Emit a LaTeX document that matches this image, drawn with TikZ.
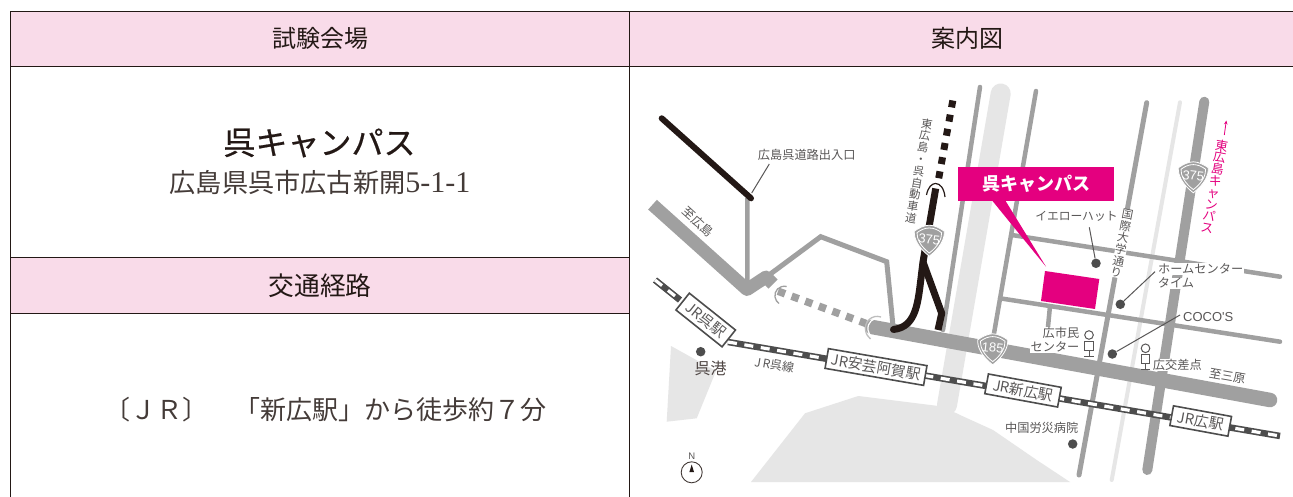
\documentclass[tikz,border=0pt]{standalone}
\usetikzlibrary{arrows.meta}
\usepackage{fontspec}
\setmainfont{Noto Sans CJK JP}
\newfontfamily\jpmedium[FakeBold=0.6]{Noto Sans CJK JP}
\newfontfamily\latinserif{Liberation Serif}
\newfontfamily\latinsans{Liberation Sans}
\definecolor{rule}{HTML}{231815}
\definecolor{headpink}{HTML}{F9DBE9}
\definecolor{roadgrey}{HTML}{A0A0A0}
\definecolor{lightgrey}{HTML}{E6E6E6}
\definecolor{mapink}{HTML}{595757}
\definecolor{railgrey}{HTML}{4D4D4D}
\definecolor{campus}{HTML}{E4007F}
\newcommand{\fs}[1]{\fontsize{#1}{#1}\selectfont}
\newcommand{\vfs}[2]{\fontsize{#1}{#2}\selectfont}
\tikzset{
  tablerule/.style={draw=rule,line width=1pt},
  headtext/.style={text=rule,inner sep=0pt},
  thinroad/.style={draw=roadgrey,line width=4.5pt,line cap=round},
  lightroad/.style={draw=lightgrey,line width=4pt,line cap=round},
  majorroad/.style={draw=roadgrey,line width=10pt,line cap=round},
  bigroad/.style={draw=roadgrey,line width=14.5pt,line cap=round},
  blackroad/.style={draw=rule,line width=7pt,line join=round},
  leader/.style={draw=mapink,line width=1pt},
  spot/.style={circle,fill=railgrey,inner sep=0pt,minimum size=9.5pt},
  maplabel/.style={text=mapink,inner sep=0.5pt,font=\fs{12.2}},
  halolabel/.style={maplabel,fill=white},
  stationbox/.style={draw=railgrey,fill=white,line width=1.6pt,inner sep=0pt,text=mapink,font=\fs{14.6},minimum height=20pt},
  vlabel/.style={text=mapink,inner sep=0.5pt,align=center},
  railbase/.style={draw=railgrey,line width=6.5pt},
  railtop/.style={draw=white,line width=3.2pt,dash pattern=on 9pt off 7.6pt},
  markerline/.style={draw=mapink,line width=1pt,fill=white}
}
% route shield: #1 name, #2 centre x, #3 centre y, #4 number
\newcommand{\shield}[4]{%
  \begin{scope}[shift={(#2,#3)}]
    \path[fill=roadgrey,draw=white,line width=.8pt]
      (0,-15.5) .. controls (5,-15.5) and (11,-12.5) .. (15,-9.5)
      .. controls (15.5,-2) and (11,7) .. (0,15.5)
      .. controls (-11,7) and (-15.5,-2) .. (-15,-9.5)
      .. controls (-11,-12.5) and (-5,-15.5) .. (0,-15.5) -- cycle;
    \path[draw=white,line width=.8pt]
      (0,-12.7) .. controls (5,-12.7) and (9,-10.5) .. (12.3,-8)
      .. controls (12.5,-2) and (9,5.5) .. (0,12.3)
      .. controls (-9,5.5) and (-12.5,-2) .. (-12.3,-8)
      .. controls (-9,-10.5) and (-5,-12.7) .. (0,-12.7) -- cycle;
    \node[text=white,inner sep=0pt,font=\latinsans\fs{13},rotate=-6] (#1) at (0,-1.5) {#4};
  \end{scope}}
% person-like marker: #1 x, #2 circle y
\newcommand{\marker}[2]{%
  \begin{scope}[shift={(#1,#2)}]
    \path[markerline] (0,0) circle (4.3);
    \path[markerline] (-4.3,6.3) rectangle (4.3,15.3);
    \path[markerline] (0,15.3) -- (0,21.5) (-4.8,21.5) -- (4.8,21.5);
  \end{scope}}
\begin{document}
\begin{tikzpicture}[x=1pt,y=-1pt]
\useasboundingbox (0,0) rectangle (1293,497);
\fill[white] (0,0) rectangle (1293,497);
% header bands
\fill[headpink] (10,12) rectangle (1293,66.5);
\fill[headpink] (10,257) rectangle (629.5,313.5);
% table rules
\path[tablerule] (10,497) -- (10,12) -- (1293,12);
\path[tablerule] (10,66.5) -- (1293,66.5);
\path[tablerule] (629.5,12) -- (629.5,497);
\path[tablerule] (10,257) -- (629.5,257);
\path[tablerule] (10,313.8) -- (629.5,313.8);
% table text
\node[headtext,font=\fs{24}] (hvenue) at (320,38.5) {試験会場};
\node[headtext,font=\fs{24}] (hmap) at (967,38.5) {案内図};
\node[headtext,font=\fs{25.8}] (hroute) at (320,286) {交通経路};
\node[headtext,font=\jpmedium\fs{32}] (campusname) at (319.5,143) {呉キャンパス};
\node[headtext,font=\fs{26.2},text=rule!85] (address) at (320,183) {広島県呉市広古新開{\latinserif\fs{30}5-1-1}};
\node[headtext,font=\fs{26},text=rule!85] (access) at (325,410) {〔ＪＲ〕　「新広駅」から徒歩約７分};
% light areas
\fill[lightgrey] (751,482) -- (805,413.3) -- (858.3,396) -- (938.3,406) -- (956.7,413.3) -- (960,415) -- (993,430) -- (1036.7,460) -- (1070,482) -- cycle;
\fill[lightgrey] (671,346) -- (716,371) -- (696.7,418.3) -- (666.7,421.7) -- cycle;
\path[draw=lightgrey,line width=20pt,line cap=round] (1000.7,93.5) -- (947,405);
\path[lightroad] (1180,102.3) -- (1111.7,480);
% thin roads
\path[thinroad] (980,87) -- (943,330);
\path[thinroad] (1036,91) -- (992,345);
\path[thinroad,line width=5pt] (1146.7,102.7) -- (1079,475);
\path[thinroad] (1011.7,235) -- (1280,276.7);
\path[thinroad] (1000,298.3) -- (1280,341.7);
\path[thinroad,line cap=butt] (1050,306) -- (1047.3,334);
\path[majorroad] (1204.3,101.7) -- (1147.3,470);
% west roads
\path[draw=roadgrey,line width=13pt,line join=round] (652.5,204.7) -- (747,289.5) -- (766,277) -- (773,284);
\path[thinroad,line cap=butt] (747.3,198) -- (747.5,285);
\path[draw=roadgrey,line width=5pt,line join=miter] (766.7,276.7) -- (820.7,236.7) -- (886.7,261.7) -- (893,326);
% tunnel section
\path[draw=roadgrey,line width=7.5pt,dash pattern=on 7.5pt off 7pt] (778,291.2) -- (866,323.5);
\path[draw=roadgrey,line width=1.3pt] (786.7,286.5) .. controls (779,285) and (774,291) .. (775,297) .. controls (775.5,300) and (777,302) .. (779,303.5);
% main road 185
\path[bigroad] (872,327) -- (1270,400);
\path[draw=white,line width=1.2pt] (881,318.5) .. controls (873,316.5) and (867,323) .. (868,330) .. controls (868.5,333) and (870,335) .. (871,336);
\path[draw=roadgrey!70,line width=1.3pt] (881,317) .. controls (872,314) and (864,322) .. (865.5,330) .. controls (866,334) and (868,337) .. (870.5,339);
% expressway
\path[draw=rule,line width=7pt,dash pattern=on 7pt off 7.4pt] (952.8,100.5) -- (938.5,179.5);
\path[blackroad] (935.7,188.5) -- (923,262);
\path[blackroad,line cap=round] (923,262) .. controls (920,285) and (919,300) .. (915,311) .. controls (911,322) and (905,328) .. (893.5,329.5);
\path[blackroad] (923,262) -- (941.7,313.3) -- (938,330);
\path[draw=rule,line width=1.2pt] (926.5,195) .. controls (928,187) and (932,183.5) .. (935.5,183.5) .. controls (940,183.5) and (944,188) .. (945,197);
% rail
\path[railbase] (655,280) -- (680,300);
\path[railtop] (655,280) -- (680,300);
\path[railbase] (728,342) -- (1280,436);
\path[railtop] (728,342) -- (1280,436);
% campus
\fill[campus] (1045,271) -- (1099.3,279) -- (1095,309) -- (1041,301) -- cycle;
\fill[campus] (957.5,167) rectangle (1114,201);
\fill[campus] (991.7,200) -- (1005,200) -- (1046,266.7) -- cycle;
\node[text=white,inner sep=0pt,font=\bfseries\fs{18}] (calloutlabel) at (1036,184) {呉キャンパス};
% shields
\shield{s375a}{929.3}{240.7}{375}
\shield{s375b}{1193.3}{177.3}{375}
\shield{s185}{992.7}{349.3}{185}
% stations
\node[stationbox,rotate=-38.6,minimum width=59pt,minimum height=21.5pt] (kure) at (705.7,320) {JR呉駅};
\node[stationbox,rotate=-9.8,minimum width=100pt] (aga) at (876,367) {JR安芸阿賀駅};
\node[stationbox,rotate=-10.4,minimum width=74pt] (shinhiro) at (1023,390.5) {JR新広駅};
\node[stationbox,rotate=-10.4,minimum width=59pt] (hiro) at (1200.7,421) {JR広駅};
% dots and leaders
\coordinate (expt) at (751.7,193);
\node[maplabel] (exitlabel) at (806.7,155) {広島呉道路出入口};
\path[leader] (769.3,164) -- (expt);
\path[draw=rule,line width=6pt,line cap=round] (661.7,118.3) -- (751,198.3);
\node[spot] (yellowdot) at (1096,263.3) {};
\node[maplabel,font=\fs{11.8}] (yellow) at (1076.5,216.7) {イエローハット};
\path[leader] (1089.3,227.3) -- (yellowdot);
\node[spot] (homedot) at (1120.3,304.3) {};
\node[maplabel,fill=white,inner sep=0.3pt] (home) at (1200.7,269) {ホームセンター};
\node[maplabel,fill=white,inner sep=0.3pt] (time) at (1176,283.3) {タイム};
\coordinate (homeend) at (1155,271.7);
\path[leader] (homeend) -- (homedot);
\node[spot] (cocodot) at (1112.3,354) {};
\node[maplabel,font=\latinsans\fs{13}] (coco) at (1208.3,316.7) {COCO'S};
\path[leader] (1180,315) -- (cocodot);
\node[spot] (rosaidot) at (1072.7,444) {};
\node[maplabel] (rosai) at (1041.7,428.3) {中国労災病院};
\node[spot] (portdot) at (700.7,351.7) {};
\node[text=rule!80,inner sep=0pt,font=\fs{16}] (port) at (710.5,368) {呉港};
% markers
\marker{1089}{335}
\marker{1145.5}{348.3}
\node[halolabel] (shimin1) at (1061,332.7) {広市民};
\node[halolabel] (shimin2) at (1055,347.3) {センター};
\node[halolabel] (kosa) at (1177.3,365) {広交差点};
% slanted labels
\node[maplabel,rotate=-42] (tohiro) at (698.3,221.7) {至広島};
\node[maplabel,rotate=-10] (tomihara) at (1227.3,376.7) {至三原};
\node[maplabel,rotate=-10,font=\fs{12}] (kureline) at (774.3,365) {J\,R呉線};
\node[vlabel,fill=white,rotate=-9.6,font=\vfs{11.3}{12}] (exway) at (919,171) {東\\広\\島\\・\\呉\\自\\動\\車\\道};
\node[vlabel,fill=white,rotate=-11,font=\vfs{11.5}{11.9},inner sep=0pt] (kokusai) at (1122,243.5) {国\\際\\大\\学\\通\\り};
\node[vlabel,text=campus,rotate=-10,font=\vfs{12.6}{12}] (eastcampus) at (1214.5,186.5) {東\\広\\島\\キ\\ャ\\ン\\パ\\ス};
\coordinate (earrowtail) at (1224.3,135);
\coordinate (earrowhead) at (1226.3,120.5);
\path[draw=campus,line width=.8pt,-{Stealth[length=4pt,width=3.5pt]}] (earrowtail) -- (earrowhead);
% north arrow
\node[text=mapink,inner sep=0pt,font=\latinsans\fs{9.5}] (north) at (691.7,456) {N};
\path[draw=rule!85,line width=.9pt] (691.7,472.3) circle (10.5);
\fill[rule] (691.7,464.5) -- (694,472) -- (689.4,472) -- cycle;
\end{tikzpicture}
\end{document}
